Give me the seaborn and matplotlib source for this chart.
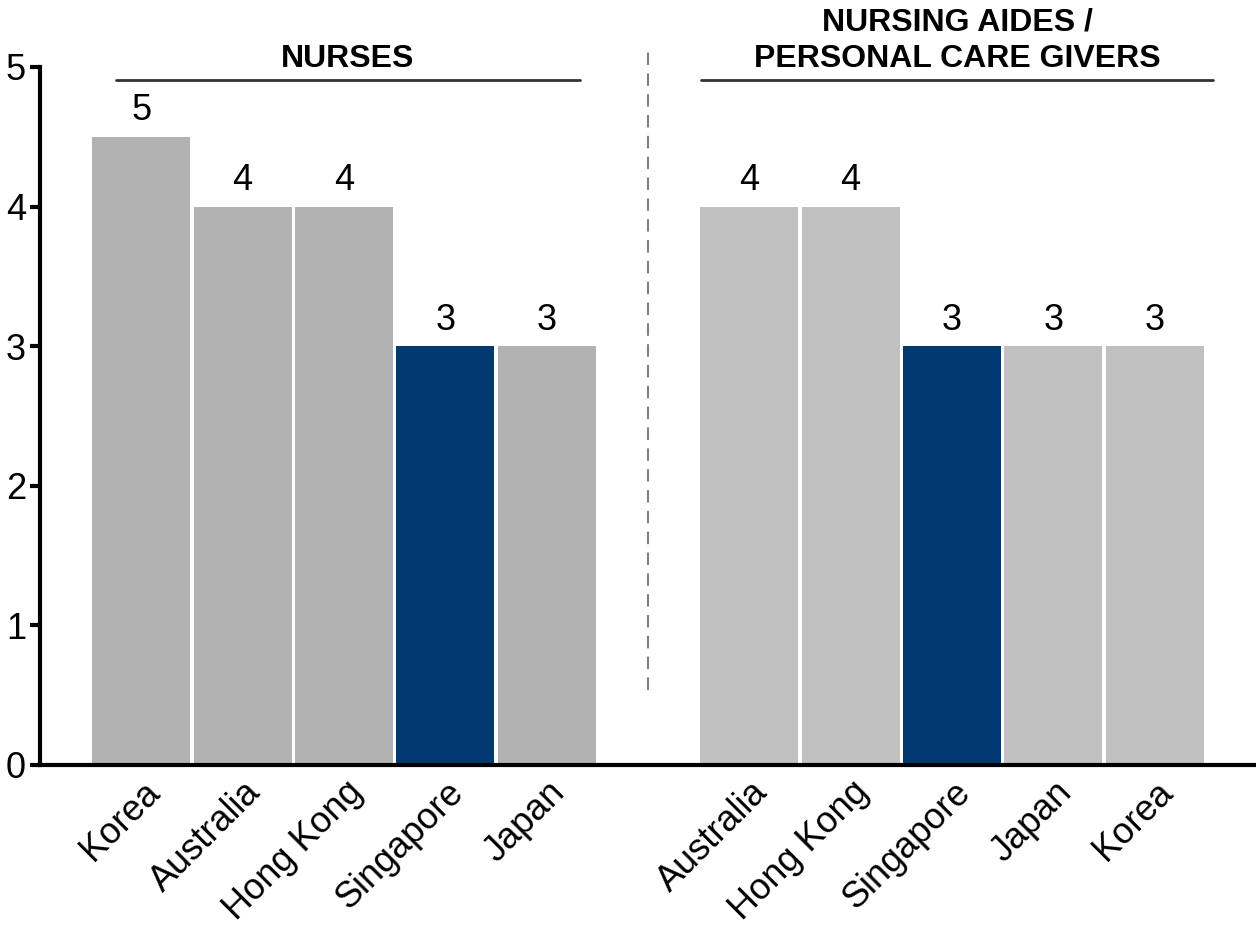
import pandas as pd
import matplotlib.pyplot as plt
import seaborn as sns

# Data
nurse_countries = ["Korea", "Australia", "Hong Kong", "Singapore", "Japan"]
nurse_values = [4.5, 4, 4, 3, 3]
nurse_labels = ["5", "4", "4", "3", "3"]

aide_countries = ["Australia", "Hong Kong", "Singapore", "Japan", "Korea"]
aide_values = [4, 4, 3, 3, 3]
aide_labels = ["4", "4", "3", "3", "3"]

panel_titles = ["NURSES", "NURSING AIDES /\nPERSONAL CARE GIVERS"]
y_ticks = [0, 1, 2, 3, 4, 5]

# Colours
NURSE_GREY = "#b2b2b2"
AIDE_GREY = "#c0c0c0"
NAVY = "#003a70"

sns.set_style("white")
plt.rcParams["font.family"] = ["Liberation Sans", "DejaVu Sans"]
plt.rcParams["text.color"] = "black"
plt.rcParams["xtick.color"] = "black"
plt.rcParams["ytick.color"] = "black"

# Build table: left panel at 0..4, gap, right panel at 6..10
rows = []
for i, (c, v, l) in enumerate(zip(nurse_countries, nurse_values, nurse_labels)):
    rows.append({"pos": i, "country": c, "value": v, "label": l,
                 "group": "sg" if c == "Singapore" else "nurse"})
for i, (c, v, l) in enumerate(zip(aide_countries, aide_values, aide_labels)):
    rows.append({"pos": i + 6, "country": c, "value": v, "label": l,
                 "group": "sg" if c == "Singapore" else "aide"})
df = pd.DataFrame(rows)

fig = plt.figure(figsize=(12.56, 9.26), dpi=100)
ax = fig.add_axes([40 / 1256, 161 / 926, 1216 / 1256, 698 / 926])

sns.barplot(data=df, x="pos", y="value", hue="group", native_scale=True,
            palette={"nurse": NURSE_GREY, "aide": AIDE_GREY, "sg": NAVY},
            saturation=1, width=0.97, dodge=False, legend=False,
            edgecolor="none", linewidth=0, ax=ax)

# value labels
for bar, lab in zip(sorted(ax.patches, key=lambda p: p.get_x()), df.sort_values("pos")["label"]):
    ax.annotate(lab, (bar.get_x() + bar.get_width() / 2, bar.get_height()),
                xytext=(0, 12), textcoords="offset points",
                ha="center", va="baseline", fontsize=26)

ax.set_xlim(-1, 11)
ax.set_ylim(0, 5)
ax.set_yticks(y_ticks)
ax.set_yticklabels([str(t) for t in y_ticks], fontsize=26)
ax.set_xticks(df["pos"])
ax.set_xticklabels([])
ax.set_xlabel("")
ax.set_ylabel("")

# rotated category labels
for p, c in zip(df["pos"], df["country"]):
    ax.annotate(c, (p, 0), xycoords=("data", "axes fraction"),
                xytext=(9.5, -16), textcoords="offset points",
                rotation=45, ha="right", va="center", rotation_mode="anchor",
                fontsize=26)

ax.tick_params(axis="y", direction="out", length=7, width=3, pad=3, left=True)
ax.tick_params(axis="x", length=0)
for s in ["top", "right"]:
    ax.spines[s].set_visible(False)
for s in ["left", "bottom"]:
    ax.spines[s].set_linewidth(3)
    ax.spines[s].set_color("black")

# panel headers
ax.plot([-0.25, 4.33], [4.907, 4.907], color="#333333", lw=2, clip_on=False)
ax.plot([5.52, 10.58], [4.907, 4.907], color="#333333", lw=2, clip_on=False)
ax.text(2.04, 5.0, panel_titles[0], ha="center", va="baseline",
        fontsize=23, fontweight="bold")
ax.text(8.05, 5.0, panel_titles[1], ha="center", va="baseline",
        fontsize=23, fontweight="bold", linespacing=1.3)

# divider
ax.plot([5, 5], [0.54, 5.14], color="#808080", lw=1.5, ls=(0, (6, 4)), clip_on=False)

plt.savefig("out.png", dpi=100)
